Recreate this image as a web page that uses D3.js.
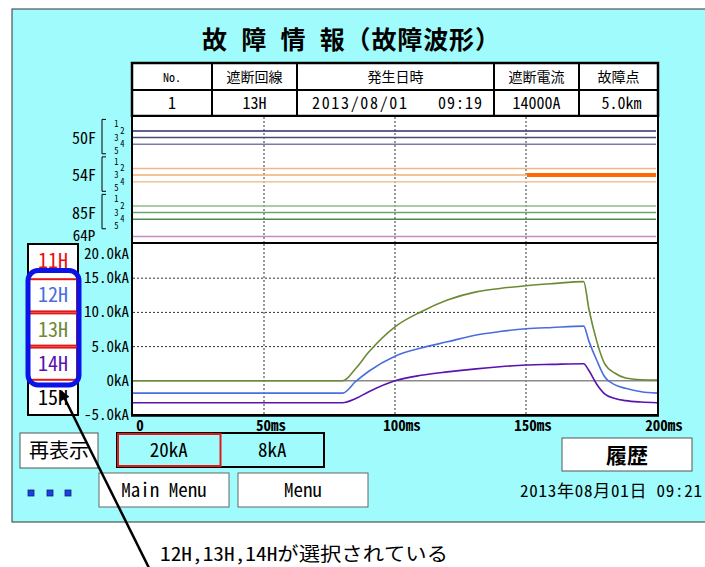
<!DOCTYPE html>
<html><head><meta charset="utf-8">
<script src="https://cdn.jsdelivr.net/npm/d3@7"></script>
<style>
html,body{margin:0;padding:0;background:#fff;}
svg text{font-family:"Noto Sans Mono CJK JP","Noto Sans CJK JP",sans-serif;fill:#000;}
</style></head>
<body><svg id="c" width="705" height="567"></svg>
<script>
// ---------- data ----------
const timeMs  = [0, 80, 85, 90, 100, 110, 120, 131, 140, 150, 160, 172, 174, 177, 180, 184, 188, 194, 200];
const kA_12H  = [-1.8,-1.8,-0.1,1.4,3.6,4.8,5.7,6.7,7.2,7.6,7.8,8.0,5.8,3.0,0.6,-0.6,-1.1,-1.6,-1.8];
const kA_13H  = [0,0,1.8,4.2,7.9,10.1,11.8,13.0,13.5,13.9,14.2,14.5,10.5,5.8,2.5,1.1,0.4,0.15,0.1];
const kA_14H  = [-3.2,-3.2,-2.6,-1.6,0.0,0.8,1.3,1.75,2.05,2.3,2.4,2.5,1.5,-0.5,-1.9,-2.6,-2.9,-3.1,-3.2];
const seriesNames  = ["12H","13H","14H"];
const seriesColors = ["#4a6ee0","#6b8a35","#5a12b0"];

const yTicks = [20,15,10,5,0,-5];
const yTickLabels = ["20.0kA","15.0kA","10.0kA","5.0kA","0kA","-5.0kA"];
const xTicks = [0,50,100,150,200];
const xTickLabels = ["0","50ms","100ms","150ms","200ms"];

const lineButtons = ["11H","12H","13H","14H","15H"];
const lineButtonColors = ["#e81010","#4a6ee0","#6b8a35","#5a12b0","#000000"];
const selectedLines = ["12H","13H","14H"];

const digitalGroups = ["50F","54F","85F"];
const digitalChannels = [1,2,3,4,5];
const drawnChannels = [2,3,4];
const digitalColors = {
  "50F":["#2e2e6e","#4a4a80","#8078a8"],
  "54F":["#f2b48a","#eeb070","#f0c49a"],
  "85F":["#8cbc8c","#6aa86a","#4a8a55"]
};
const singleSignal = {name:"64P", color:"#c888c8"};
const digitalOn = [{group:"54F", ch:3, from:150, to:200}];

const tableHeaders = ["No.","遮断回線","発生日時","遮断電流","故障点"];
const tableValues  = ["1","13H","2013/08/01    09:19","14000A","5.0km"];
const rangeButtons = ["20kA","8kA"];
const dateText = "2013年08月01日 09:21";
const noteText = "12H,13H,14Hが選択されている";

// ---------- drawing ----------
const svg = d3.select("#c");
const CYAN = "#a0fcfc";

svg.append("rect").attr("x",12).attr("y",9).attr("width",720).attr("height",513)
  .attr("fill",CYAN).attr("stroke","#333").attr("stroke-width",1);

svg.append("text").attr("x",202).attr("y",49)
  .attr("font-size",25).attr("font-weight","bold").attr("textLength",298).attr("lengthAdjust","spacing")
  .text("故 障 情 報（故障波形）");

// table
const colEdges = [132,212,297,494,579,658];
const tg = svg.append("g");
tg.append("rect").attr("x",132).attr("y",63).attr("width",526).attr("height",53).attr("fill","#fff");
colEdges.slice(1,-1).forEach(cx=>tg.append("line").attr("x1",cx).attr("x2",cx).attr("y1",63).attr("y2",116).attr("stroke","#000").attr("stroke-width",2));
tg.append("line").attr("x1",132).attr("x2",658).attr("y1",90).attr("y2",90).attr("stroke","#000").attr("stroke-width",2);
tg.append("rect").attr("x",132).attr("y",63).attr("width",526).attr("height",53).attr("fill","none").attr("stroke","#000").attr("stroke-width",2.5);
tableHeaders.forEach((h,i)=>{
  tg.append("text").attr("x",(colEdges[i]+colEdges[i+1])/2).attr("y",82).attr("text-anchor","middle")
    .attr("font-size",i===0?12:14).text(h);
});
tableValues.forEach((v,i)=>{
  const cx=(colEdges[i]+colEdges[i+1])/2;
  if(i===2){
    const parts=v.split(/\s+/);
    tg.append("text").attr("x",312).attr("y",109).attr("font-size",16).attr("textLength",95).attr("lengthAdjust","spacing").text(parts[0]);
    tg.append("text").attr("x",482).attr("y",109).attr("text-anchor","end").attr("font-size",16).attr("textLength",44).attr("lengthAdjust","spacing").text(parts[1]);
  } else {
    tg.append("text").attr("x",cx+(i===4?3:0)).attr("y",109).attr("text-anchor","middle").attr("font-size",16).text(v);
  }
});

// scales
const x = d3.scaleLinear().domain([0,200]).range([133,657]);
const y = d3.scaleLinear().domain([-5,20]).range([415,244]);
const yDig = d3.scaleLinear().domain([0,18]).range([117.8,236.6]);
const groupOffset = 5.68;
const chIdx = (g,ch)=> g*groupOffset + ch;

// digital area
svg.append("rect").attr("x",132).attr("y",116).attr("width",526).attr("height",127).attr("fill","#fff");
const dg = svg.append("g");
[50,100,150].forEach(t=>dg.append("line").attr("x1",x(t)).attr("x2",x(t)).attr("y1",117).attr("y2",243)
  .attr("stroke","#333").attr("stroke-width",1).attr("stroke-dasharray","2,2"));
digitalGroups.forEach((g,gi)=>{
  drawnChannels.forEach((ch,ci)=>{
    dg.append("line").attr("x1",x(0)).attr("x2",x(200)-1).attr("y1",yDig(chIdx(gi,ch))).attr("y2",yDig(chIdx(gi,ch)))
      .attr("stroke",digitalColors[g][ci]).attr("stroke-width",1.5);
  });
  svg.append("text").attr("x",84).attr("y",yDig(chIdx(gi,3))+6).attr("text-anchor","middle").attr("font-size",16).text(g);
  const top=yDig(chIdx(gi,1))-5, bot=yDig(chIdx(gi,5))+3;
  svg.append("path").attr("d",`M106,${top}H102V${bot}H106`).attr("fill","none").attr("stroke","#000").attr("stroke-width",1);
  digitalChannels.forEach(ch=>{
    svg.append("text").attr("x",ch%2?116.5:122.5).attr("y",yDig(chIdx(gi,ch))+3).attr("text-anchor","middle")
      .attr("font-size",8.5).text(ch);
  });
});
dg.append("line").attr("x1",x(0)).attr("x2",x(200)-1).attr("y1",yDig(18)).attr("y2",yDig(18))
  .attr("stroke",singleSignal.color).attr("stroke-width",1.5);
svg.append("text").attr("x",84).attr("y",yDig(18)+4).attr("text-anchor","middle").attr("font-size",15).text(singleSignal.name);
digitalOn.forEach(d=>{
  const gi=digitalGroups.indexOf(d.group);
  dg.append("line").attr("x1",x(d.from)+1).attr("x2",x(d.to)-1).attr("y1",yDig(chIdx(gi,d.ch))).attr("y2",yDig(chIdx(gi,d.ch)))
    .attr("stroke","#ff6a00").attr("stroke-width",4);
});
svg.append("rect").attr("x",132).attr("y",116).attr("width",526).attr("height",127).attr("fill","none").attr("stroke","#000").attr("stroke-width",2);

// analog area
svg.append("rect").attr("x",132).attr("y",244).attr("width",526).attr("height",171).attr("fill","#fff");
const ag = svg.append("g");
[5,10,15].forEach(v=>ag.append("line").attr("x1",x(0)).attr("x2",x(200)).attr("y1",y(v)).attr("y2",y(v))
  .attr("stroke","#333").attr("stroke-width",1).attr("stroke-dasharray","2,2"));
[50,100,150].forEach(t=>ag.append("line").attr("x1",x(t)).attr("x2",x(t)).attr("y1",244).attr("y2",415)
  .attr("stroke","#333").attr("stroke-width",1).attr("stroke-dasharray","2,2"));
ag.append("line").attr("x1",x(0)).attr("x2",x(200)).attr("y1",y(0)).attr("y2",y(0)).attr("stroke","#8a8a8a").attr("stroke-width",1.5);

const lineGen = d3.line().x((d,i)=>x(timeMs[i])).y(d=>y(d)).curve(d3.curveMonotoneX);
[kA_14H,kA_12H,kA_13H].forEach((s,k)=>{
  const idx=[2,0,1][k];
  ag.append("path").attr("d",lineGen(s)).attr("fill","none").attr("stroke",seriesColors[idx]).attr("stroke-width",1.6);
});
svg.append("rect").attr("x",132).attr("y",243).attr("width",526).attr("height",172).attr("fill","none").attr("stroke","#000").attr("stroke-width",2);
svg.append("line").attr("x1",131).attr("x2",659).attr("y1",415.5).attr("y2",415.5).attr("stroke","#000").attr("stroke-width",2.5);

// axis labels
yTicks.forEach((v,i)=>{
  const yy = Math.max(y(v)+5, 259);
  svg.append("text").attr("x",129).attr("y",yy).attr("text-anchor","end").attr("font-size",15).text(yTickLabels[i]);
});
xTicks.forEach((t,i)=>{
  svg.append("text").attr("x",x(t)+7).attr("y",431).attr("text-anchor","middle").attr("font-size",15)
    .attr("font-weight","bold").text(xTickLabels[i]);
});

// line buttons
const bScale = d3.scaleBand().domain(lineButtons).range([244,415]);
svg.append("rect").attr("x",28).attr("y",244).attr("width",50).attr("height",171).attr("fill","#fff").attr("stroke","#000").attr("stroke-width",2);
lineButtons.forEach((b,i)=>{
  const y0=bScale(b), h=bScale.bandwidth();
  if(selectedLines.includes(b)){
    svg.append("rect").attr("x",29).attr("y",y0+1).attr("width",48).attr("height",h-2).attr("fill","#fff").attr("stroke","#e01818").attr("stroke-width",2);
  }
  svg.append("text").attr("x",53).attr("y",y0+h/2+7).attr("text-anchor","middle").attr("font-size",20)
    .style("fill",lineButtonColors[i]).text(b);
});
svg.append("rect").attr("x",28).attr("y",270.5).attr("width",51).attr("height",114.5).attr("rx",10)
  .attr("fill","none").attr("stroke","#0a14e6").attr("stroke-width",5);

// bottom buttons
svg.append("rect").attr("x",20).attr("y",433).attr("width",78).attr("height",35).attr("fill","#fff").attr("stroke","#555");
svg.append("text").attr("x",59).attr("y",458).attr("text-anchor","middle").attr("font-size",20).text("再表示");

const rb = d3.scaleBand().domain(rangeButtons).range([117,324]);
svg.append("rect").attr("x",117).attr("y",433).attr("width",207).attr("height",34).attr("fill",CYAN).attr("stroke","#000").attr("stroke-width",2);
rangeButtons.forEach((r,i)=>{
  if(i===0) svg.append("rect").attr("x",rb(r)+1).attr("y",434).attr("width",rb.bandwidth()-1).attr("height",32).attr("fill","none").attr("stroke","#e01818").attr("stroke-width",2);
  svg.append("text").attr("x",rb(r)+rb.bandwidth()/2).attr("y",457).attr("text-anchor","middle").attr("font-size",19).text(r);
});

[["Main Menu",99],["Menu",238]].forEach(([t,x0])=>{
  svg.append("rect").attr("x",x0).attr("y",473).attr("width",130).attr("height",34).attr("fill","#fff").attr("stroke","#666");
  svg.append("text").attr("x",x0+65).attr("y",497).attr("text-anchor","middle").attr("font-size",19).text(t);
});
[28,47,65].forEach(sx=>svg.append("rect").attr("x",sx).attr("y",490).attr("width",6).attr("height",6).attr("fill","#1a40e0").attr("stroke","#102080").attr("stroke-width",0.8));

svg.append("rect").attr("x",562).attr("y",438).attr("width",130).attr("height",33).attr("fill","#fff").attr("stroke","#555");
svg.append("text").attr("x",627).attr("y",463).attr("text-anchor","middle").attr("font-size",21).attr("font-weight","bold").text("履歴");
svg.append("text").attr("x",702).attr("y",497).attr("text-anchor","end").attr("font-size",17)
  .attr("textLength",182).attr("lengthAdjust","spacing").text(dateText);

// annotation
svg.append("defs").append("marker").attr("id","ah").attr("viewBox","0 0 10 10").attr("refX",9).attr("refY",5)
  .attr("markerWidth",5).attr("markerHeight",4).attr("orient","auto")
  .append("path").attr("d","M0,0L10,5L0,10z").attr("fill","#000");
svg.append("line").attr("x1",150).attr("y1",570).attr("x2",61).attr("y2",391).attr("stroke","#000").attr("stroke-width",2.5).attr("marker-end","url(#ah)");
svg.append("text").attr("x",160).attr("y",561).attr("font-size",19).attr("textLength",288).attr("lengthAdjust","spacingAndGlyphs").text(noteText);
</script></body></html>
